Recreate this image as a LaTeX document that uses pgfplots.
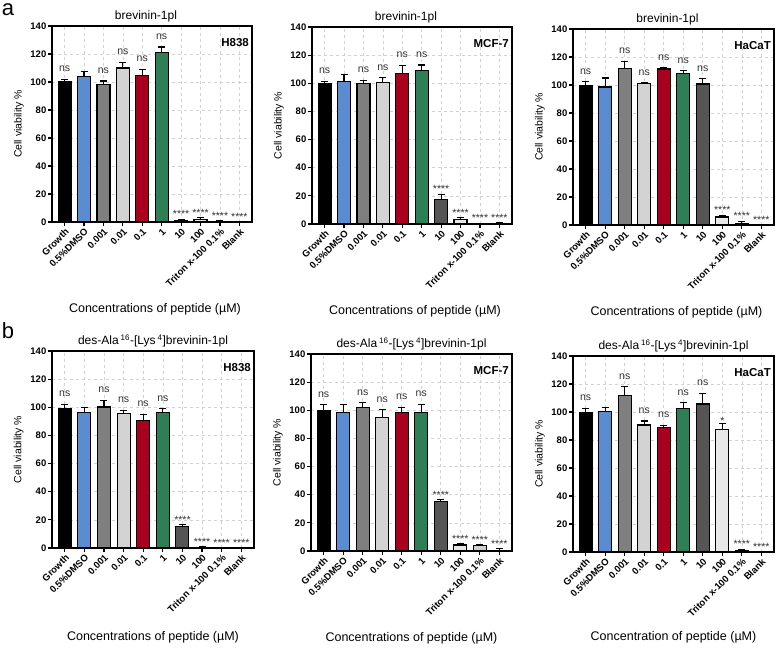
\documentclass[border=0pt]{standalone}
\usepackage{fontspec}
\setmainfont{Liberation Sans}
\usepackage{pgfplots}
\pgfplotsset{compat=1.18}
\usepackage{pgfplotstable}

\definecolor{c0}{HTML}{000000}
\definecolor{c1}{HTML}{5B8BD0}
\definecolor{c2}{HTML}{7F7F7F}
\definecolor{c3}{HTML}{D3D3D3}
\definecolor{c4}{HTML}{A8001E}
\definecolor{c5}{HTML}{2E7F55}
\definecolor{c6}{HTML}{555555}
\definecolor{c7}{HTML}{E8E8E8}
\definecolor{c8}{HTML}{CFCFCF}
\definecolor{c9}{HTML}{FFFFFF}

% lab: 0 none, 1 ns, 2 ****, 3 *
\pgfplotstableread{
x y e lab
0 100 2 1
1 104 3.6 0
2 98 2.7 1
3 110 4 1
4 104.5 4.5 1
5 121 4 1
6 1.2 0.8 2
7 2 1 2
8 0.5 0.3 2
9 0.2 0 2
}\tabAa
\pgfplotstableread{
x y e lab
0 99.6 1.9 1
1 101 5 0
2 100 2 1
3 100.3 3.7 1
4 106.7 6 1
5 109 4 1
6 17.6 3.4 2
7 2.9 1.6 2
8 0.3 0.3 2
9 0.3 0.7 2
}\tabAb
\pgfplotstableread{
x y e lab
0 99.8 2.6 1
1 98.6 6.4 0
2 112 5 1
3 101 0.7 1
4 111.4 1 1
5 108.3 1.9 1
6 100.7 3.8 1
7 5.7 1.4 2
8 1 1.6 2
9 0.2 0 2
}\tabAc
\pgfplotstableread{
x y e lab
0 99 3.3 1
1 96.3 3.7 0
2 100.2 4.7 1
3 95.9 2.1 1
4 90.6 4.4 1
5 96 3 1
6 15 1.6 2
7 0.5 0.2 2
8 0.1 0 2
9 0.1 0 2
}\tabBa
\pgfplotstableread{
x y e lab
0 100 4 1
1 98.4 6 0
2 102 3.3 1
3 94.6 5.7 1
4 98.4 3.8 1
5 98.4 5.9 1
6 35 1.5 2
7 4.3 0.9 2
8 3.6 0.9 2
9 0.3 1.2 2
}\tabBb
\pgfplotstableread{
x y e lab
0 99.8 3 1
1 100.2 2.8 0
2 112 6 1
3 90.7 2.9 1
4 88.8 1.7 1
5 102.6 4.1 1
6 105.7 7.6 1
7 87.4 4.7 3
8 1.2 0.8 2
9 0.1 0 2
}\tabBc

\newcommand\lbl[1]{\ifcase#1\relax\or\raisebox{7.5pt}{ns}\or\raisebox{1.5pt}{****}\or\raisebox{-1.8pt}{*}\fi}

\newcommand\bars[1]{%
 \pgfplotsinvokeforeach{0,...,9}{%
  \addplot[ybar, bar width=13pt, fill=c##1, draw=black, line width=1.1pt,
    restrict x to domain=##1:##1,
    error bars/.cd, y dir=plus, y explicit,
    error bar style={line width=1.1pt,black},
    error mark options={rotate=90, mark size=3.5pt, line width=1.1pt, black}]
   table[x=x,y=y,y error=e]{#1};
 }%
 \addplot[draw=none, mark=none, point meta=explicit symbolic,
   nodes near coords={\lbl{\pgfplotspointmeta}},
   nodes near coords style={anchor=base, inner sep=0pt, font=\fontsize{10.5}{10.5}\selectfont, text=black!80}]
   table[x=x, y expr=\thisrow{y}+\thisrow{e}, meta=lab]{#1};
}

\pgfplotsset{panel/.style={
  scale only axis, anchor=north west,
  xmin=-0.65, xmax=9.65, ymin=0, ymax=140,
  ytick={0,20,...,140}, xtick={0,...,9},
  xticklabels={Growth,0.5\%DMSO,0.001,0.01,0.1,1,10,100,Triton x-100 0.1\%,Blank},
  x tick label style={rotate=45, anchor=north east, font=\bfseries\fontsize{9.5}{10}\selectfont, inner sep=1pt},
  y tick label style={font=\bfseries\fontsize{9.5}{10}\selectfont, inner sep=1.5pt},
  /pgf/number format/assume math mode=true,
  tick align=outside, tick pos=left,
  major tick length=4pt,
  tick style={line width=1.1pt, black},
  axis line style={line width=1.3pt, black},
  grid=major,
  major grid style={dash pattern=on 3pt off 3pt, gray!35, line width=0.6pt},
  ylabel={Cell viability \%},
  ylabel style={at={(axis description cs:-0.165,0.5)}, anchor=center, font=\fontsize{10.5}{12}\selectfont},
  xlabel style={at={(axis description cs:0.5,0)}, anchor=center, font=\fontsize{12.5}{14}\selectfont},
  title style={at={(axis description cs:0.5,1)}, anchor=center, yshift=4pt, font=\fontsize{12}{13}\selectfont},
}}
\newcommand\cell[1]{\node[anchor=north east, inner sep=0pt, font=\bfseries\fontsize{11.5}{12}\selectfont, xshift=-3pt, yshift=-12pt] at (rel axis cs:1,1) {#1};}

\begin{document}
\begin{tikzpicture}
\path[use as bounding box] (0,0) rectangle (776pt,-648pt);

\begin{axis}[panel, at={(52pt,-26pt)}, width=200pt, height=196pt,
  title={brevinin-1pl}, title style={xshift=-6pt},
  xlabel={Concentrations of peptide (µM)}, xlabel style={yshift=-87pt, xshift=3pt}]
\bars{\tabAa}
\cell{H838}
\end{axis}

\begin{axis}[panel, at={(312pt,-27pt)}, width=200pt, height=197pt,
  title={brevinin-1pl}, title style={xshift=-6pt},
  xlabel={Concentrations of peptide (µM)}, xlabel style={yshift=-87pt, xshift=3pt}]
\bars{\tabAb}
\cell{MCF-7}
\end{axis}

\begin{axis}[panel, at={(573pt,-29pt)}, width=201pt, height=196pt,
  title={brevinin-1pl}, title style={xshift=-6pt},
  xlabel={Concentrations of peptide (µM)}, xlabel style={yshift=-87pt, xshift=3pt}]
\bars{\tabAc}
\cell{HaCaT}
\end{axis}

\begin{axis}[panel, at={(52pt,-351pt)}, width=202pt, height=197pt,
  title={des-Ala\,\textsuperscript{16}-[Lys\,\textsuperscript{4}]brevinin-1pl},
  xlabel={Concentrations of peptide (µM)}, xlabel style={yshift=-89pt}]
\bars{\tabBa}
\cell{H838}
\end{axis}

\begin{axis}[panel, at={(311pt,-354pt)}, width=201pt, height=197pt,
  title={des-Ala\,\textsuperscript{16}-[Lys\,\textsuperscript{4}]brevinin-1pl},
  xlabel={Concentrations of peptide (µM)}, xlabel style={yshift=-87pt}]
\bars{\tabBb}
\cell{MCF-7}
\end{axis}

\begin{axis}[panel, at={(573pt,-356pt)}, width=201pt, height=196pt,
  title={des-Ala\,\textsuperscript{16}-[Lys\,\textsuperscript{4}]brevinin-1pl},
  xlabel={Concentration of peptide (µM)}, xlabel style={yshift=-85pt}]
\bars{\tabBc}
\cell{HaCaT}
\end{axis}

\node[inner sep=0pt, font=\fontsize{22}{22}\selectfont] at (8pt,-9.5pt) {a};
\node[inner sep=0pt, font=\fontsize{22}{22}\selectfont] at (8pt,-331pt) {b};
\end{tikzpicture}
\end{document}
